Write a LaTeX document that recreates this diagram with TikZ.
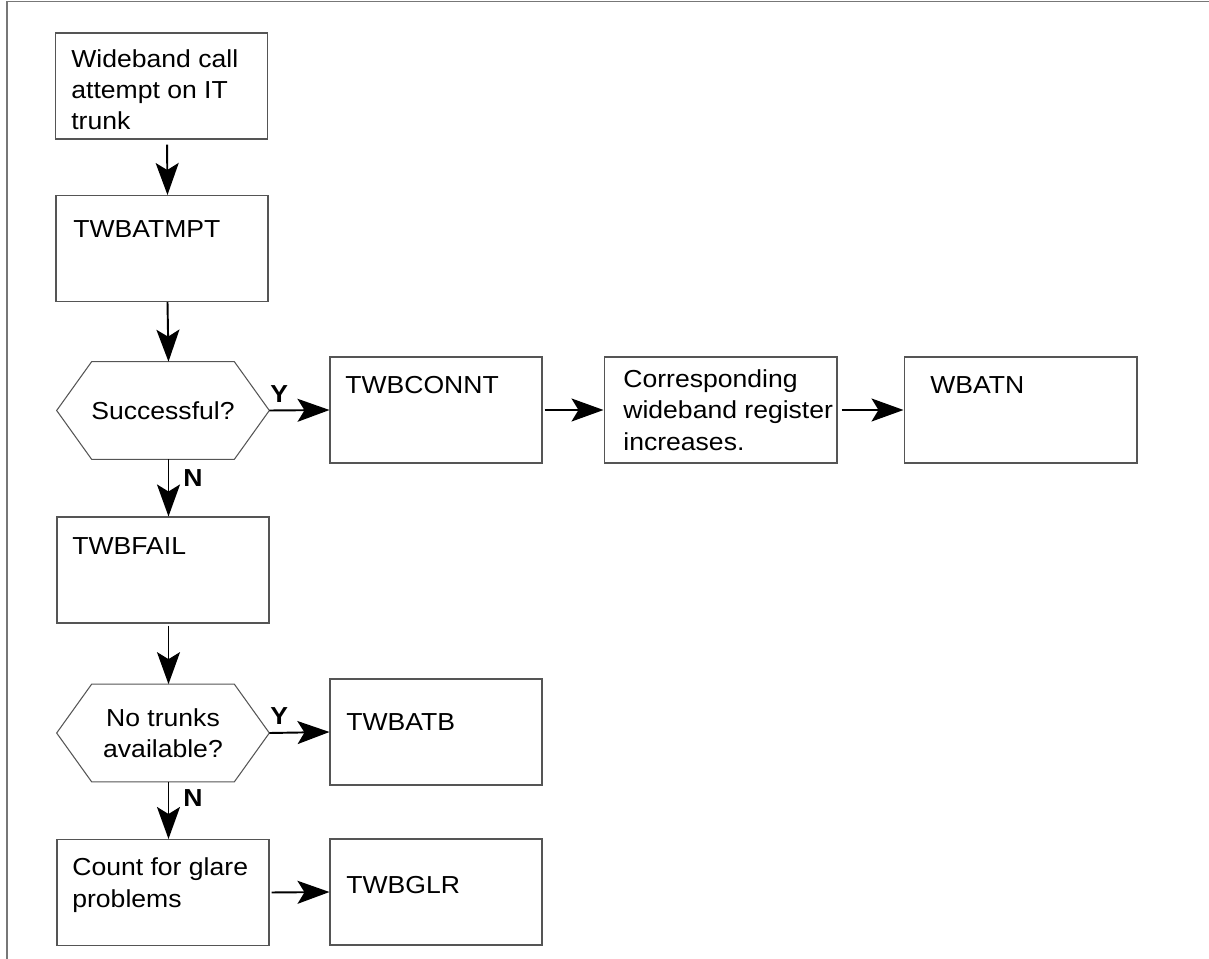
\documentclass[tikz,border=0pt]{standalone}
\usepackage{fontspec}
\setmainfont[FakeStretch=1.08]{Liberation Sans}
\usepackage{tikz}
\usetikzlibrary{arrows.meta,positioning}
\definecolor{linec}{HTML}{555555}
\definecolor{framec}{HTML}{777777}
\newcommand{\fsz}{\fontsize{14}{17.9}\selectfont}
\tikzset{
  ar/.style={-{Stealth[length=6.4mm,width=4.6mm,inset=1.4mm]},line width=1.1pt,black},
  box/.style={draw=linec,line width=0.6pt,minimum width=4.24cm,minimum height=2.12cm,inner sep=0pt},
  wbox/.style={box,minimum width=4.66cm},
  dec/.style={minimum width=4.24cm,minimum height=1.94cm,inner sep=0pt,align=center},
  hexl/.style={draw=linec,line width=0.6pt},
  txt/.style={anchor=base west,inner sep=0pt,align=left},
  yn/.style={font=\fsz\bfseries,inner sep=0pt}
}
\begin{document}
\begin{tikzpicture}[x=0.02cm,y=-0.02cm,font=\fsz]
\useasboundingbox (0,0) rectangle (1209,959);
\draw[framec,line width=1.1pt] (1209,1.5)--(7,1.5)--(7,959);
% main column
\node[box] (start) at (161.5,86) {};
\node[box] (atmpt) at (162,248.5) {};
\node[dec] (q1) at (163,410.5) {Successful?};
\node[box] (fail) at (163,570) {};
\node[dec] (q2) at (163,733) {No trunks\\available?};
\node[box] (glare) at (163,892.5) {};
% side boxes
\node[box] (connt) at (436,410) {};
\node[wbox] (corr) at (720.5,410) {};
\node[wbox] (wbatn) at (1020.5,410) {};
\node[box] (atb) at (436,732) {};
\node[box] (glr) at (436,892) {};
% hexagons
\foreach \q in {q1,q2}{
 \draw[hexl] (\q.west)--([xshift=0.7cm]\q.north west)--([xshift=-0.7cm]\q.north east)
  --(\q.east)--([xshift=-0.7cm]\q.south east)--([xshift=0.7cm]\q.south west)--cycle;}
% box texts (base = last line)
\node[txt] (t-start) at (71,130) {Wideband call\\attempt on IT\\trunk};
\node[txt] (t-atmpt) at (73,238) {TWBATMPT};
\node[txt] (t-connt) at (345,393) {TWBCONNT};
\node[txt] (t-corr) at (623,450) {Corresponding\\wideband register\\increases.};
\node[txt] (t-wbatn) at (930,393) {WBATN};
\node[txt] (t-fail) at (72,554) {TWBFAIL};
\node[txt] (t-atb) at (346,730) {TWBATB};
\node[txt] (t-glare) at (72,907) {Count for glare\\problems};
\node[txt] (t-glr) at (346,893) {TWBGLR};
% arrows
\draw[ar,shorten <=0.1cm] ([xshift=1.1mm]start.south)--([xshift=1.1mm]atmpt.north);
\draw[ar] ([xshift=1.1mm]atmpt.south)--([xshift=1.1mm]q1.north);
\draw[ar] ([xshift=1.1mm]q1.south)--([xshift=1.1mm]fail.north)
  node[yn,pos=0,anchor=north west,xshift=0.28cm,yshift=-0.18cm]{N};
\draw[ar,shorten <=0.04cm] ([xshift=1.1mm]fail.south)--([xshift=1.1mm]q2.north);
\draw[ar] ([xshift=1.1mm]q2.south)--([xshift=1.1mm]glare.north)
  node[yn,pos=0,anchor=north west,xshift=0.28cm,yshift=-0.14cm]{N};
\draw[ar] (q1.east)--(connt.west)
  node[yn,pos=0,anchor=south west,yshift=0.15cm]{Y};
\draw[ar,shorten <=0.04cm] (connt.east)--(corr.west);
\draw[ar,shorten <=0.08cm] (corr.east)--(wbatn.west);
\draw[ar] (q2.east)--(atb.west)
  node[yn,pos=0,anchor=south west,yshift=0.15cm]{Y};
\draw[ar,shorten <=0.04cm] (glare.east)--(glr.west);
\end{tikzpicture}
\end{document}
